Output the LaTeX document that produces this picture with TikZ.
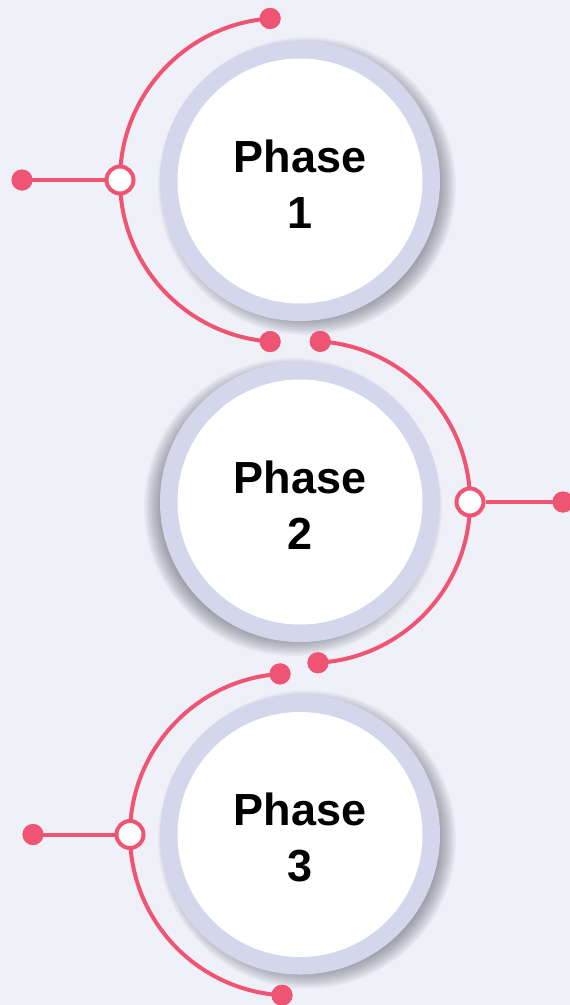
\documentclass[tikz,border=0pt]{standalone}
\usepackage{fontspec}
\setmainfont{Liberation Sans}
\definecolor{bgc}{HTML}{EFF0F8}
\definecolor{ringc}{HTML}{D4D7EB}
\definecolor{pinkc}{HTML}{EF5572}
\definecolor{shadc}{HTML}{3A3D4A}
\tikzset{
  ringnode/.style={circle, fill=ringc, minimum size=280pt, inner sep=0pt},
  innernode/.style={circle, fill=white, minimum size=245pt, inner sep=0pt},
  phasetext/.style={align=center, inner sep=0pt, font=\fontsize{45}{56}\selectfont\bfseries},
  arcline/.style={draw=pinkc, line width=4pt},
  dotnode/.style={circle, fill=pinkc, minimum size=21pt, inner sep=0pt},
  opennode/.style={circle, draw=pinkc, fill=white, line width=4pt, minimum size=27pt, inner sep=0pt}
}
\newcommand{\softshadow}[3]{% centre x, centre y, xshift
  \foreach \k in {0,...,13} {
    \fill[shadc, opacity=0.038] ({#1+#3},{#2+5}) circle ({149-\k*1.3});
  }
}
\begin{document}
\begin{tikzpicture}[x=1pt,y=-1pt]
\fill[bgc] (0,0) rectangle (570,1005);
\useasboundingbox (0,0) rectangle (570,1005);
% shadows
\softshadow{300}{181}{7}
\softshadow{300}{502}{-7}
\softshadow{300}{834.5}{7}
% rings
\node[ringnode] (r1) at (300,181) {};
\node[ringnode] (r2) at (300,502) {};
\node[ringnode] (r3) at (300,834.5) {};
\node[innernode] (w1) at (r1) {};
\node[innernode] (w2) at (r2) {};
\node[innernode] (w3) at (r3) {};
\node[phasetext] (p1) at ([yshift=-3pt]w1.center) {Phase\\1};
\node[phasetext] (p2) at ([yshift=-3pt]w2.center) {Phase\\2};
\node[phasetext] (p3) at ([yshift=-3pt]w3.center) {Phase\\3};
% arc centres
\coordinate (c1) at (282,180);
\coordinate (c2) at (309,502);
\coordinate (c3) at (291,834.5);
% arc 1
\node[dotnode] (a1t) at ([shift={(265.8:162)}]c1) {};
\node[dotnode] (a1b) at ([shift={(94.2:162)}]c1) {};
\node[dotnode] (l1) at (22,180) {};
\draw[arcline] (a1t.center) arc[start angle=265.8, end angle=94.2, radius=162];
\node[opennode] (o1) at ([shift={(180:162)}]c1) {};
\draw[arcline] (l1.center) -- (o1);
% arc 2
\node[dotnode] (a2t) at ([shift={(-86:161)}]c2) {};
\node[dotnode] (a2b) at ([shift={(86.8:161)}]c2) {};
\node[dotnode] (l2) at (563,502) {};
\draw[arcline] (a2t.center) arc[start angle=-86, end angle=86.8, radius=161];
\node[opennode] (o2) at ([shift={(0:161)}]c2) {};
\draw[arcline] (l2.center) -- (o2);
% arc 3
\node[dotnode] (a3t) at ([shift={(266.1:161)}]c3) {};
\node[dotnode] (a3b) at ([shift={(93.2:161)}]c3) {};
\node[dotnode] (l3) at (33,834.5) {};
\draw[arcline] (a3t.center) arc[start angle=266.1, end angle=93.2, radius=161];
\node[opennode] (o3) at ([shift={(180:161)}]c3) {};
\draw[arcline] (l3.center) -- (o3);
% dots on top of line ends
\foreach \n in {a1t,a1b,l1,a2t,a2b,l2,a3t,a3b,l3} {\fill[pinkc] (\n) circle (10.5pt);}
\end{tikzpicture}
\end{document}
